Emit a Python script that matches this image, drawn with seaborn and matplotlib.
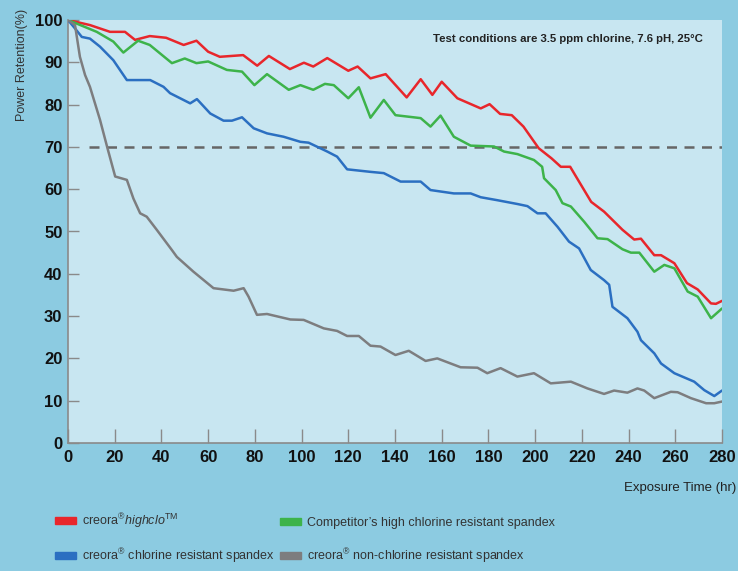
import numpy as np
import pandas as pd
import matplotlib
matplotlib.use('Agg')
import matplotlib.pyplot as plt
import matplotlib.patches as mpatches
import seaborn as sns

# values
red_hr = [0, 9.4, 18, 24.4, 28.7, 35, 42, 49.5, 55, 60, 65, 75, 81, 86, 95, 101, 105, 111, 120, 124,
          129.5, 136, 145, 151, 156, 160, 166.7, 176.7, 180.5, 185, 190, 195, 201.5, 207, 211, 215,
          224, 229.5, 237.4, 242.4, 245.3, 251, 253.9, 259.6, 265, 269.6, 275.3, 277.4, 280]
red_val = [100, 98.8, 97.2, 97.2, 95.3, 96.2, 95.8, 94.1, 95.1, 92.5, 91.3, 91.7, 89.2, 91.5, 88.4, 89.9, 89, 91, 88, 89,
           86.2, 87.2, 81.7, 86, 82.3, 85.4, 81.5, 79.1, 80.1, 77.8, 77.5, 74.8, 69.7, 67.3, 65.3, 65.3,
           57, 54.7, 50.4, 48.1, 48.3, 44.4, 44.4, 42.5, 37.8, 36.3, 33, 32.9, 33.6]

green_hr = [0, 12.3, 19.4, 23.7, 30, 35, 44.5, 50, 55, 60, 68, 74.5, 79.8, 85.2, 94.5, 99.5, 105, 110, 113.8, 120,
            124.5, 129.5, 135.2, 140.2, 151, 155.2, 159.5, 165.2, 172.4, 182.4, 186.7, 192.4, 199.5, 203, 203.8,
            208.8, 211.7, 215.3, 221, 226.7, 231, 237.4, 241, 244.6, 251, 255.3, 259.6, 265.3, 269.6, 275.3, 280]
green_val = [100, 97.2, 94.9, 92.3, 95.1, 94.1, 89.8, 90.9, 89.8, 90.2, 88.2, 87.8, 84.6, 87.2, 83.5, 84.6, 83.5, 84.9, 84.6, 81.5,
             84.1, 76.9, 81.1, 77.5, 76.8, 74.8, 77.4, 72.4, 70.3, 70.1, 68.9, 68.3, 66.9, 65.3, 62.6,
             59.8, 56.7, 55.9, 52.3, 48.4, 48.2, 45.8, 45, 45, 40.5, 42.1, 41.3, 35.8, 34.6, 29.5, 31.8]

blue_hr = [0, 3, 5.9, 9.4, 13.7, 19.4, 25.2, 29.5, 35.2, 40.9, 43.7, 52.3, 55.2, 60.9, 66.6, 70.2, 74.5, 79.5, 85.2,
           92.3, 99.5, 103, 111, 115.2, 119.5, 129.5, 135.2, 142.4, 151, 155.2, 165.2, 172.4, 176.7, 183.8, 192.4,
           196.7, 201, 204.5, 209.6, 214.5, 218.8, 223.8, 229.5, 231.7, 233.1, 239.5, 243.8, 245.3, 251, 253.9,
           259.6, 268.1, 272.4, 276.7, 280]
blue_val = [100, 98, 96, 95.6, 93.7, 90.5, 85.8, 85.8, 85.8, 84.2, 82.7, 80.3, 81.3, 77.9, 76.2, 76.2, 77, 74.4, 73.2,
            72.4, 71.2, 71, 68.9, 67.7, 64.7, 64.1, 63.8, 61.8, 61.8, 59.8, 59, 59, 58.1, 57.4, 56.5,
            56, 54.3, 54.3, 51.1, 47.6, 46, 40.9, 38.5, 37.4, 32.2, 29.5, 26.3, 24.3, 21.2, 18.8,
            16.5, 14.5, 12.5, 11.1, 12.4]

gray_hr = [0, 3, 5.1, 7.3, 9.4, 13.7, 16.9, 20.2, 25.2, 28, 30.9, 33.7, 38, 44.5, 46.6, 53.7, 62.3, 70.9, 75.2, 77.3,
           80.9, 85.2, 95.2, 100.9, 109.5, 115.2, 119.5, 124.5, 129.5, 133.8, 140.2, 145.9, 153.1, 158.1, 168.1,
           175.3, 179.5, 185.2, 192.4, 199.5, 206.7, 215.3, 222.4, 229.5, 233.8, 239.5, 243.8, 246.7, 251, 258.1,
           261, 266.7, 273.2, 276.7, 280]
gray_val = [100, 98.8, 91.3, 87, 84.2, 76.4, 69.7, 63, 62.2, 57.8, 54.3, 53.5, 50.4, 45.6, 44, 40.5, 36.6, 36, 36.6, 34.6,
            30.3, 30.5, 29.2, 29.1, 27.1, 26.5, 25.3, 25.3, 23, 22.8, 20.8, 21.8, 19.4, 20, 17.9,
            17.8, 16.5, 17.7, 15.7, 16.5, 14.1, 14.5, 12.9, 11.6, 12.4, 11.9, 12.9, 12.4, 10.6, 12.1,
            12, 10.6, 9.4, 9.4, 9.8]

names = ['highclo', 'competitor', 'chlorine', 'nonchlorine']
labels = {
    'highclo': r'creora$^{®}$$\mathit{highclo}$$^{\mathrm{TM}}$',
    'competitor': 'Competitor\u2019s high chlorine resistant spandex',
    'chlorine': 'creora$^{®}$ chlorine resistant spandex',
    'nonchlorine': 'creora$^{®}$ non-chlorine resistant spandex',
}
colors = {'highclo': '#e8262b', 'competitor': '#3db34a', 'chlorine': '#2b6fc1', 'nonchlorine': '#7d7d7f'}
threshold = 70

frames = []
for n, h, v in zip(names, [red_hr, green_hr, blue_hr, gray_hr], [red_val, green_val, blue_val, gray_val]):
    frames.append(pd.DataFrame({'hours': h, 'retention': v, 'series': n}))
df = pd.concat(frames, ignore_index=True)

sns.set_theme(style='ticks')
plt.rcParams['font.family'] = ['Liberation Sans', 'DejaVu Sans']
plt.rcParams['mathtext.fontset'] = 'custom'
plt.rcParams['mathtext.rm'] = 'Liberation Sans'
plt.rcParams['mathtext.it'] = 'Liberation Sans:italic'

fig = plt.figure(figsize=(7.38, 5.71), dpi=100, facecolor='#8ccbe1')
ax = fig.add_axes([68 / 738, 1 - 443 / 571, 654 / 738, 423 / 571])
ax.set_facecolor('#c8e6f1')

ax.hlines(threshold, 9, 280, colors='#666666', linestyles=(0, (4, 3)), linewidth=1.8, zorder=1)

sns.lineplot(data=df, x='hours', y='retention', hue='series', hue_order=names, palette=colors,
             estimator=None, sort=False, linewidth=1.8, legend=False, ax=ax, zorder=3)

ax.set_xlim(0, 280)
ax.set_ylim(0, 100)
ax.set_xticks(np.arange(0, 281, 20))
ax.set_yticks(np.arange(0, 101, 10))
ax.set_xlabel('')
ax.set_ylabel('')
for s in ['top', 'right']:
    ax.spines[s].set_visible(False)
for s in ['left', 'bottom']:
    ax.spines[s].set_color('#8a8a8a')
    ax.spines[s].set_linewidth(1.2)
ax.tick_params(axis='y', direction='in', length=8, width=1, color='#8a8a8a', pad=4,
               labelsize=12, labelcolor='#111111')
ax.tick_params(axis='x', direction='in', length=10, width=1, color='#8a8a8a', pad=5,
               labelsize=12, labelcolor='#111111')
for lab in ax.get_xticklabels() + ax.get_yticklabels():
    lab.set_fontweight('bold')

fig.text(22 / 738, 1 - 65 / 571, 'Power Retention(%)', rotation=90, ha='center', va='center',
         fontsize=9, color='#333333')
fig.text(736 / 738, 1 - 488 / 571, 'Exposure Time (hr)', ha='right', va='center',
         fontsize=9.5, color='#222222')
ax.text(0.97, 0.955, 'Test conditions are 3.5 ppm chlorine, 7.6 pH, 25\u00b0C', transform=ax.transAxes,
        ha='right', va='center', fontsize=8.2, color='#222222', fontweight='bold')

# legend entries placed in a 2x2 grid like the reference
slots = {'highclo': (55, 521), 'chlorine': (55, 556), 'competitor': (280, 523), 'nonchlorine': (280, 556)}
for n, (xpx, ypx) in slots.items():
    leg = fig.legend(handles=[mpatches.Patch(color=colors[n], label=labels[n])], loc='center left',
                     bbox_to_anchor=(xpx / 738, 1 - ypx / 571), frameon=False, fontsize=9,
                     handlelength=1.7, handleheight=0.55, handletextpad=0.45,
                     borderpad=0, borderaxespad=0)
    for t in leg.get_texts():
        t.set_color('#333333')

fig.savefig('out.png', dpi=100, facecolor=fig.get_facecolor())
